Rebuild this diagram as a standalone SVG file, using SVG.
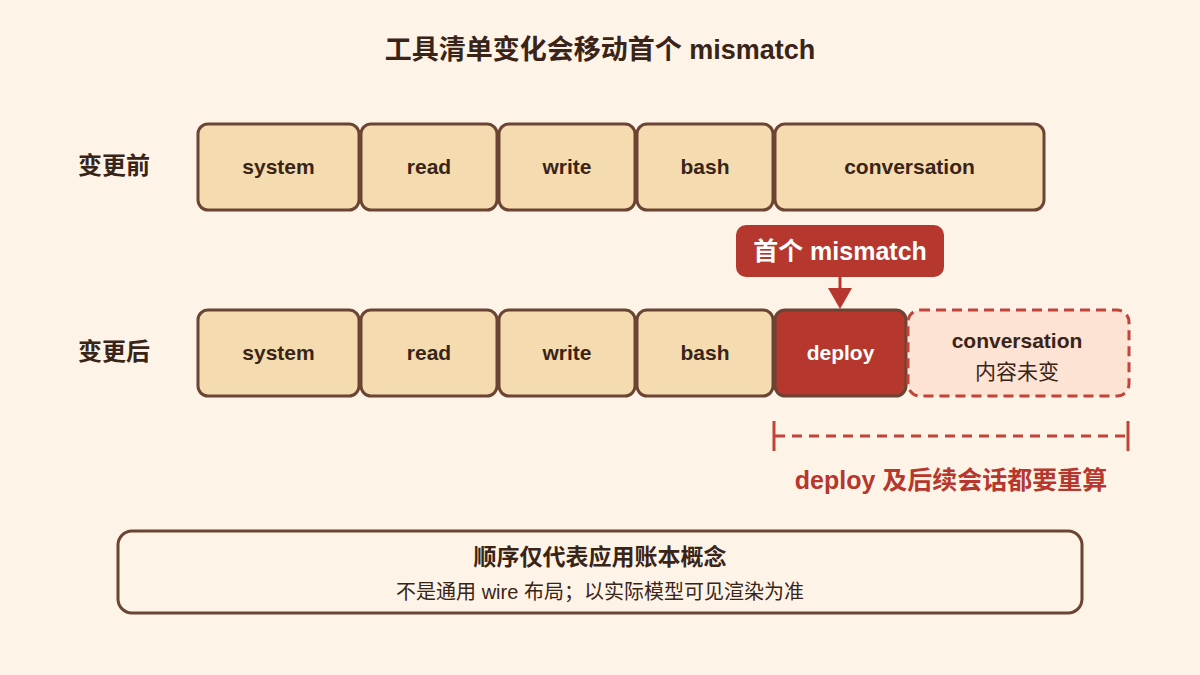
<svg xmlns="http://www.w3.org/2000/svg" width="1200" height="675" viewBox="0 0 1200 675">
<style>
text{font-family:"Liberation Sans","Noto Sans CJK SC",sans-serif;text-anchor:middle;font-weight:bold}
.b{fill:#f4dcb0;stroke:#6b4434;stroke-width:3}
.t{font-size:21px;fill:#3a2418}
.h{font-size:24px;fill:#3a2418}
</style>
<rect width="1200" height="675" fill="#fdf4e7"/>
<text x="600" y="59" font-size="27" fill="#3a2418">工具清单变化会移动首个 mismatch</text>
<text x="114" y="174" class="h">变更前</text>
<text x="114" y="360" class="h">变更后</text>
<g id="before">
<g id="b-system"><rect class="b" x="198" y="124" width="161" height="86" rx="10"/><text class="t" x="278.5" y="174">system</text></g>
<g id="b-read"><rect class="b" x="361" y="124" width="136" height="86" rx="10"/><text class="t" x="429" y="174">read</text></g>
<g id="b-write"><rect class="b" x="499" y="124" width="136" height="86" rx="10"/><text class="t" x="567" y="174">write</text></g>
<g id="b-bash"><rect class="b" x="637" y="124" width="136" height="86" rx="10"/><text class="t" x="705" y="174">bash</text></g>
<g id="b-conv"><rect class="b" x="775" y="124" width="269" height="86" rx="10"/><text class="t" x="909.5" y="174">conversation</text></g>
</g>
<g id="after">
<g id="a-system"><rect class="b" x="198" y="310" width="161" height="86" rx="10"/><text class="t" x="278.5" y="360">system</text></g>
<g id="a-read"><rect class="b" x="361" y="310" width="136" height="86" rx="10"/><text class="t" x="429" y="360">read</text></g>
<g id="a-write"><rect class="b" x="499" y="310" width="136" height="86" rx="10"/><text class="t" x="567" y="360">write</text></g>
<g id="a-bash"><rect class="b" x="637" y="310" width="136" height="86" rx="10"/><text class="t" x="705" y="360">bash</text></g>
<g id="a-deploy"><rect x="775" y="310" width="131" height="86" rx="10" fill="#b5372d" stroke="#6b4434" stroke-width="3"/><text class="t" x="840.5" y="360" fill="#fff" style="fill:#fff">deploy</text></g>
<g id="a-conv"><rect x="908" y="310" width="221" height="86" rx="12" fill="#fde3d3" stroke="#c0443a" stroke-width="3" stroke-dasharray="10 6"/><text class="t" x="1017" y="348">conversation</text><text x="1017" y="379" font-size="21" fill="#3a2418" style="font-weight:normal">内容未变</text></g>
</g>
<g id="label"><rect x="736" y="225" width="208" height="52" rx="10" fill="#b5372d"/><text x="840" y="260" font-size="25" fill="#fff">首个 mismatch</text></g>
<g id="connectors">
<line x1="840" y1="277" x2="840" y2="291" stroke="#b5372d" stroke-width="3"/>
<polygon points="828,288 852,288 840,309" fill="#b5372d"/>
<line x1="775" y1="436" x2="1128" y2="436" stroke="#c0443a" stroke-width="3" stroke-dasharray="10 7"/>
<line x1="774" y1="421" x2="774" y2="451" stroke="#c0443a" stroke-width="3"/>
<line x1="1128" y1="421" x2="1128" y2="451" stroke="#c0443a" stroke-width="3"/>
</g>
<text x="951" y="489" font-size="25" fill="#b5372d">deploy 及后续会话都要重算</text>
<g id="note"><rect x="118" y="531" width="964" height="82" rx="14" fill="#fdf4e7" stroke="#6b4434" stroke-width="3"/>
<text x="600" y="565" font-size="23" fill="#3a2418">顺序仅代表应用账本概念</text>
<text x="600" y="599" font-size="20" fill="#3a2418" style="font-weight:normal">不是通用 wire 布局；以实际模型可见渲染为准</text></g>
</svg>
